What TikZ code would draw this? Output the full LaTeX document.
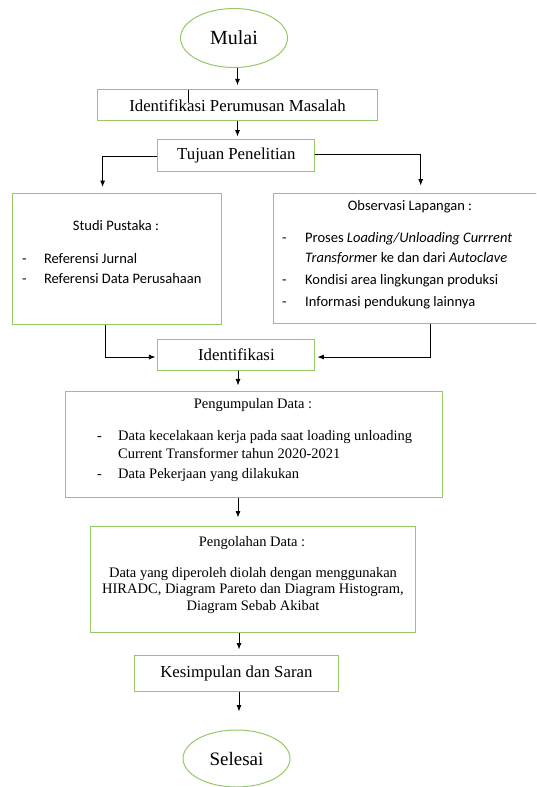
\documentclass[tikz,border=0pt]{standalone}
\usepackage{fontspec}
\setmainfont{Liberation Serif}
\newfontfamily\calibri{Carlito}
\usetikzlibrary{arrows.meta,shapes.geometric}

\definecolor{boxgreen}{RGB}{150,200,100}

\tikzset{
  box/.style={draw=boxgreen, line width=1pt, rectangle, inner sep=0pt},
  oval/.style={draw=boxgreen, line width=1pt, ellipse, inner sep=0pt},
  arr/.style={-{Latex[length=6.5pt,width=5pt]}, line width=0.8pt},
  big/.style={font=\fontsize{16.8}{19}\selectfont},
  small/.style={font=\fontsize{14.5}{16.8}\selectfont, inner sep=0pt},
  cal/.style={font=\calibri\fontsize{14.5}{17}\selectfont, inner sep=0pt},
  item/.style={anchor=base west}
}

\begin{document}
\begin{tikzpicture}[x=1pt, y=-1pt]
      \useasboundingbox (0,0) rectangle (536,787);
      \clip (0,0) rectangle (536,787);

      \node[oval, minimum width=107pt, minimum height=59pt, font=\fontsize{20}{24}\selectfont] (M) at (234,38) {Mulai};
      \node[box, big, minimum width=280pt, minimum height=31pt]   (IP) at (237.5,105.3) {Identifikasi Perumusan Masalah};
      \node[box, big, minimum width=157pt, minimum height=31.5pt] (TP) at (236.4,155.3) {Tujuan Penelitian};
      \node[box, minimum width=209pt, minimum height=131pt]       (SP) at (117,259)    {};
      \node[box, minimum width=272pt, minimum height=130.6pt]     (OL) at (409.6,258.3) {};
      \node[box, big, minimum width=157pt, minimum height=31pt]   (ID) at (236.4,354.5) {Identifikasi};
      \node[box, minimum width=377pt, minimum height=106pt]       (PD) at (254.4,444.9) {};
      \node[box, minimum width=325pt, minimum height=106.7pt]     (OD) at (253.4,579.4) {};
      \node[box, big, minimum width=204.7pt, minimum height=35.3pt] (KS) at (236.4,673.4) {Kesimpulan dan Saran};
      \node[oval, minimum width=107pt, minimum height=57pt, font=\fontsize{19}{23}\selectfont] (SL) at (236.5,758.5) {Selesai};

      % isi studi pustaka
      \node[cal] (SPt) at (116,226) {Studi Pustaka :};
      \node[cal, item] (SPd1) at (22,263.2) {-};
      \node[cal, item] (SPa)  at (43.8,263.2) {Referensi Jurnal};
      \node[cal, item] (SPd2) at (22,283.5) {-};
      \node[cal, item] (SPb)  at (43.8,283.5) {Referensi Data Perusahaan};

      % isi observasi lapangan
      \node[cal] (OLt) at (410,207) {Observasi Lapangan :};
      \node[cal, item] (OLd1) at (282,242.5) {-};
      \node[cal, item] (OLa)  at (305,242.5) {Proses \textit{Loading/Unloading Currrent}};
      \node[cal, item] (OLa2) at (305,262.1) {\textit{Transform}er ke dan dari \textit{Autoclave}};
      \node[cal, item] (OLd2) at (282,284.5) {-};
      \node[cal, item] (OLb)  at (305,284.5) {Kondisi area lingkungan produksi};
      \node[cal, item] (OLd3) at (282,306.5) {-};
      \node[cal, item] (OLc)  at (305,306.5) {Informasi pendukung lainnya};

      % isi pengumpulan data
      \node[small] (PDt) at (253,405) {Pengumpulan Data :};
      \node[small, item] (PDd1) at (97,440) {-};
      \node[small, item] (PDa)  at (118,440) {Data kecelakaan kerja pada saat loading unloading};
      \node[small, item] (PDa2) at (118,458.5) {Current Transformer tahun 2020-2021};
      \node[small, item] (PDd2) at (97,478.5) {-};
      \node[small, item] (PDb)  at (118,478.5) {Data Pekerjaan yang dilakukan};

      % isi pengolahan data
      \node[small] (ODt) at (252,543) {Pengolahan Data :};
      \node[small, align=center] (ODa) at (253,590.5) {Data yang diperoleh diolah dengan menggunakan\\HIRADC, Diagram Pareto dan Diagram Histogram,\\Diagram Sebab Akibat};

      \draw[line width=0.8pt] (188,89.6) -- (188,102.6);

      \path (IP.north |- M.south) edge[arr, shorten >=4pt] (IP.north);
      \path (IP.south) edge[arr, shorten >=2.5pt] (IP.south |- TP.north);
      \draw[arr, shorten >=6pt] ([yshift=-1.5pt]TP.west) -| ([xshift=-14.4pt]SP.north);
      \draw[arr, shorten >=7pt] ([yshift=0.7pt]TP.east) -| ([xshift=11.1pt]OL.north);
      \draw[arr, shorten >=2pt] ([xshift=-12pt]SP.south) |- ([yshift=-2.5pt]ID.west);
      \draw[arr, shorten >=2pt] ([xshift=20.4pt]OL.south) |- ([yshift=-2.5pt]ID.east);
      \path ([xshift=1.6pt]ID.south) edge[arr, shorten >=6pt] ([xshift=1.6pt]ID.south |- PD.north);
      \path ([xshift=1.6pt]ID.south |- PD.south) edge[arr, shorten >=8pt] ([xshift=1.6pt]ID.south |- OD.north);
      \path ([xshift=2.6pt]KS.north |- OD.south) edge[arr, shorten >=5.7pt] ([xshift=2.6pt]KS.north);
      \path ([xshift=2.6pt]KS.south) edge[arr, shorten >=18pt] ([xshift=2.6pt]KS.south |- SL.north);
\end{tikzpicture}
\end{document}
